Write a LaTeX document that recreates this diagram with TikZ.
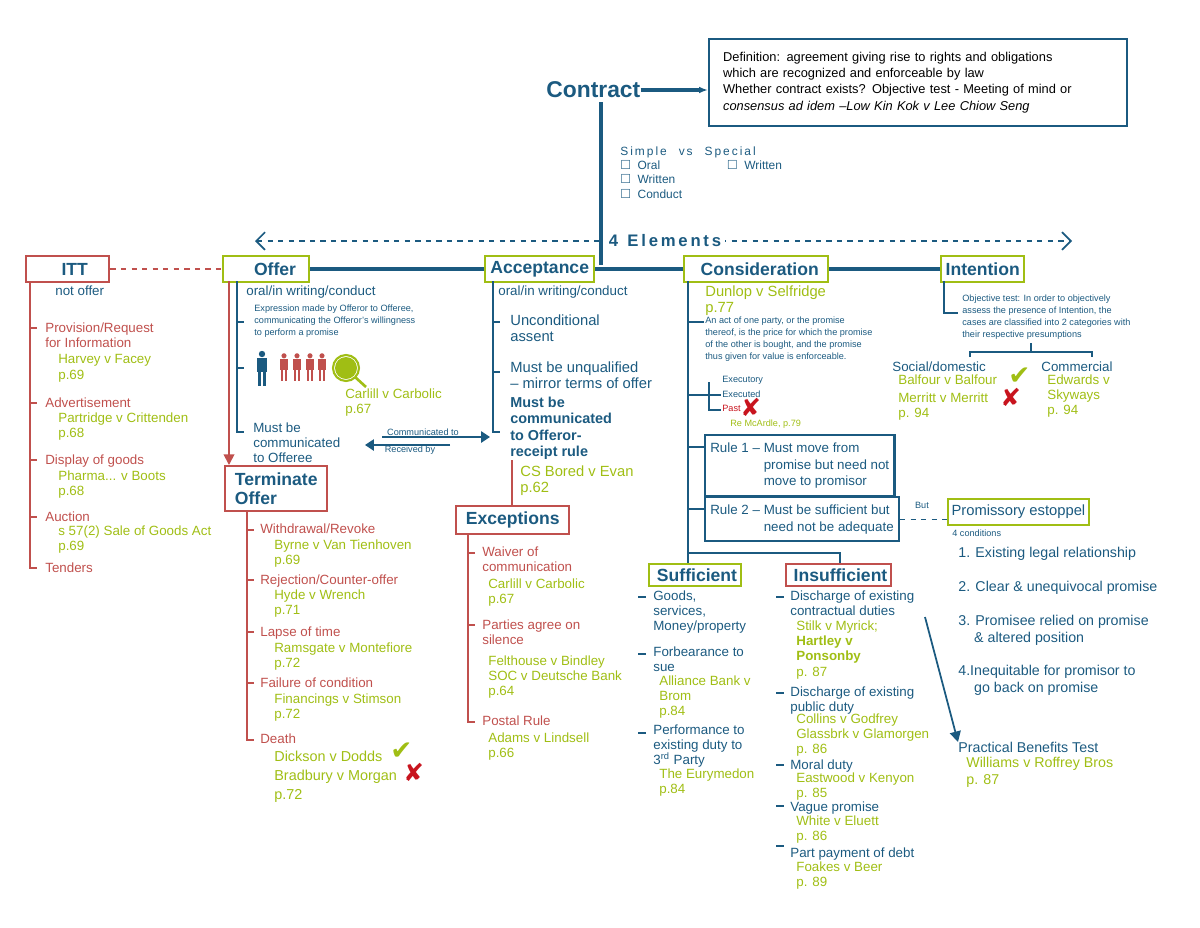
\documentclass[tikz,border=0pt]{standalone}
\usepackage{amssymb}
\usepackage{fontspec}
\setmainfont{Liberation Sans}
\newfontfamily\symfont{DejaVu Sans}
\usetikzlibrary{arrows.meta}
\definecolor{cblue}{RGB}{27,90,128}
\definecolor{cgreen}{RGB}{160,190,20}
\definecolor{cred}{RGB}{192,80,77}
\definecolor{xred}{RGB}{200,20,30}
\tikzset{
  gbox/.style={draw=cgreen, line width=1.4pt, anchor=north west, inner sep=2pt, font=\bfseries\fontsize{10}{11}\selectfont, text=cblue, align=left},
  rbox/.style={gbox, draw=cred},
  bbox/.style={draw=cblue, line width=1.2pt, anchor=north west, inner sep=3pt, align=left},
  txt/.style={anchor=north west, inner sep=0pt, align=left, font=\fontsize{7.6}{8.8}\selectfont},
  small/.style={txt, font=\fontsize{5.2}{6.7}\selectfont},
  bl/.style={txt, text=cblue},
  gr/.style={txt, text=cgreen},
  rd/.style={txt, text=cred},
  trunk/.style={cblue, line width=1.2pt},
  rtrunk/.style={cred, line width=1.2pt},
  person/.pic={\fill (0,-4) circle (3.2); \fill (-5,0) rectangle (5,14); \fill (-4,14) rectangle (-0.7,28); \fill (0.7,14) rectangle (4,28);},
}
\begin{document}
\begin{tikzpicture}[x=0.02cm, y=-0.02cm]
\useasboundingbox (0,0) rectangle (1200,927);

% heading
\node[anchor=west, inner sep=0pt, font=\bfseries\fontsize{13}{14}\selectfont, text=cblue] (contract) at (546,90) {Contract};
\node[bbox, text width=7.8cm, minimum height=1.74cm, inner xsep=8pt, font=\fontsize{7.3}{9.2}\selectfont] (defn) at (708,38)
  {Definition: agreement giving rise to rights and obligations\\which are recognized and enforceable by law\\Whether contract exists? Objective test - Meeting of mind or\\\textit{consensus ad idem} \textit{--Low Kin Kok v Lee Chiow Seng}};
\draw[cblue, line width=2.5pt, -{Latex[length=5pt]}] (contract.east) -- (defn.west |- contract.east);

\node[bl, font=\fontsize{6.8}{8.2}\selectfont] (kinds) at (620,146)
  {S\,i\,m\,p\,l\,e\quad v\,s\quad S\,p\,e\,c\,i\,a\,l\\
   $\square$\ \ Oral\hspace{38pt}$\square$\ \ Written\\ $\square$\ \ Written\\ $\square$\ \ Conduct};

% main spine
\coordinate (top) at (601,102);
\coordinate (mid) at (601,265);
\draw[trunk, line width=2pt] (top) -- (mid);
\draw[cblue, dashed, line width=1pt, {Straight Barb[length=5pt]}-{Straight Barb[length=5pt]}] (255,241) -- (1072,241);
\node[fill=white, inner sep=2pt, text=cblue, font=\bfseries\fontsize{9.5}{10}\selectfont] (elem) at (665,241) {4\ \ E\,l\,e\,m\,e\,n\,t\,s};

% element boxes
\node[rbox, minimum width=1.66cm, minimum height=0.52cm, align=center] (itt) at (25,255) {\hspace{8pt}ITT};
\node[gbox, minimum width=1.72cm, minimum height=0.52cm] (offer) at (222,255) {\hspace{10pt}Offer};
\node[gbox, minimum width=2.18cm, minimum height=0.52cm] (accept) at (484,255) {Acceptance};
\node[gbox, minimum width=2.88cm, minimum height=0.52cm] (consid) at (683,255) {\hspace{4pt}Consideration};
\node[gbox, minimum width=1.66cm, minimum height=0.52cm] (intent) at (940,255) {Intention};
\draw[trunk, line width=2pt] (offer.east) -- (accept.west);
\draw[trunk, line width=2pt] (accept.east) -- (consid.west);
\draw[trunk, line width=2pt] (consid.east) -- (intent.west);
\draw[cred, dashed, line width=1pt] (itt.east) -- (offer.west);

% ITT
\draw[rtrunk] (30,281) -- (30,568) -- (37,568);
\foreach \yy in {328,403,460,517} \draw[rtrunk] (30,\yy) -- (37,\yy);
\node[bl] (nooffer) at (55,285) {not offer};
\node[rd] (prov) at (45,322) {Provision/Request\\for Information};
\node[gr] (harvey) at (58,354) {Harvey v Facey\\p.69};
\node[rd] (advert) at (45,397) {Advertisement};
\node[gr] (partr) at (58,412) {Partridge v Crittenden\\p.68};
\node[rd] (display) at (45,454) {Display of goods};
\node[gr] (pharm) at (58,470) {Pharma... v Boots\\p.68};
\node[rd] (auction) at (45,511) {Auction};
\node[gr] (sale) at (58,525) {s 57(2) Sale of Goods Act\\p.69};
\node[rd] (tenders) at (45,562) {Tenders};

% Offer
\node[bl] (offoral) at (246,285) {oral/in writing/conduct};
\node[small, text=cblue] (expr) at (254,305) {Expression made by Offeror to Offeree,\\communicating the Offeror's willingness\\to perform a promise};
\pic[cblue] at (262,358) {person};
\foreach \xx in {284,297,310,322} \pic[cred, scale=0.8] at (\xx,359) {person};
\fill[cgreen] (346,368) circle (11);
\draw[cgreen, line width=1.2pt] (346,368) circle (13);
\draw[cgreen, line width=1.5pt] (355,377) -- (366,387);
\node[gr] (carlill) at (345,388) {Carlill v Carbolic\\p.67};
\node[bl] (mustoff) at (253,422) {Must be\\communicated\\to Offeree};
\draw[trunk] (237,281) -- (237,432) -- (244,432);
\foreach \yy in {322,368} \draw[trunk] (237,\yy) -- (244,\yy);
\draw[cred, line width=1pt, -{Triangle[length=6pt,width=6pt]}] (229,281) -- (229,465);
\coordinate (cto) at (490,437);
\coordinate (rby) at (365,445);
\draw[cblue, line width=1pt, -{Triangle[length=5pt]}] (382,437) -- (cto);
\draw[cblue, line width=1pt, -{Triangle[length=5pt]}] (450,445) -- (rby);
\node[small, text=cblue, anchor=south] (ctolbl) at (423,436) {Communicated to};
\node[small, text=cblue, anchor=north] (rbylbl) at (410,446) {Received by};

% Acceptance
\node[bl] (accoral) at (498,285) {oral/in writing/conduct};
\node[bl, font=\fontsize{8.4}{9.6}\selectfont] (uncond) at (510,314) {Unconditional\\assent};
\node[bl, font=\fontsize{8.4}{9.6}\selectfont] (unqual) at (510,361) {Must be unqualified\\-- mirror terms of offer};
\node[bl, font=\bfseries\fontsize{8.2}{9.2}\selectfont] (mustacc) at (510,397) {Must be\\communicated\\to Offeror-\\receipt rule};
\draw[trunk] (493,281) -- (493,432) -- (500,432);
\foreach \yy in {322,372} \draw[trunk] (493,\yy) -- (500,\yy);
\node[gr, font=\fontsize{8.4}{9.6}\selectfont] (csb) at (520,465) {CS Bored v Evan\\p.62};
\draw[rtrunk] (512,460) -- (512,505);

% Terminate offer
\node[rbox, minimum width=2.04cm, minimum height=0.9cm, align=left] (term) at (224,465) {Terminate\\Offer};
\draw[rtrunk] (247,510) -- (247,740) -- (254,740);
\foreach \yy in {530,580,632,683} \draw[rtrunk] (247,\yy) -- (254,\yy);
\node[rd] (withd) at (260,523) {Withdrawal/Revoke};
\node[gr] (byrne) at (274,539) {Byrne v Van Tienhoven\\p.69};
\node[rd] (reject) at (260,574) {Rejection/Counter-offer};
\node[gr] (hyde) at (274,589) {Hyde v Wrench\\p.71};
\node[rd] (lapse) at (260,626) {Lapse of time};
\node[gr] (rams) at (274,642) {Ramsgate v Montefiore\\p.72};
\node[rd] (fail) at (260,677) {Failure of condition};
\node[gr] (finance) at (274,693) {Financings v Stimson\\p.72};
\node[rd] (death) at (260,733) {Death};
\node[gr, font=\fontsize{8.2}{10.6}\selectfont] (dickson) at (274,751) {Dickson v Dodds\\Bradbury v Morgan\\p.72};
\node[txt, text=cgreen, font=\symfont\bfseries\fontsize{15}{15}\selectfont] (tick1) at (390,743) {✔};
\node[txt, text=xred, font=\symfont\bfseries\fontsize{14}{14}\selectfont] (cross1) at (403,763) {✘};

% Exceptions
\node[rbox, minimum width=2.26cm, minimum height=0.56cm] (except) at (455,505) {Exceptions};
\draw[rtrunk] (468,533) -- (468,722) -- (475,722);
\foreach \yy in {553,625} \draw[rtrunk] (468,\yy) -- (475,\yy);
\node[rd] (waiver) at (482,546) {Waiver of\\communication};
\node[gr] (carl2) at (488,578) {Carlill v Carbolic\\p.67};
\node[rd] (silence) at (482,619) {Parties agree on\\silence};
\node[gr] (felt) at (488,655) {Felthouse v Bindley\\SOC v Deutsche Bank\\p.64};
\node[rd] (postal) at (482,715) {Postal Rule};
\node[gr] (adams) at (488,732) {Adams v Lindsell\\p.66};

% Consideration
\node[gr, font=\fontsize{8.4}{9.4}\selectfont] (dunlop) at (705,285) {Dunlop v Selfridge\\p.77};
\node[small, text=cblue] (actof) at (705,317) {An act of one party, or the promise\\thereof, is the price for which the promise\\of the other is bought, and the promise\\thus given for value is enforceable.};
\draw[trunk] (688,281) -- (688,553);
\foreach \yy in {322,447,509} \draw[trunk] (688,\yy) -- (704,\yy);
\draw[cblue, line width=0.7pt] (688,395) -- (721,395);
\draw[cblue, line width=0.7pt] (709,382) -- (709,410) -- (721,410);
\node[small, text=cblue] (exec1) at (722,376) {Executory};
\node[small, text=cblue] (exec2) at (722,391) {Executed};
\node[small, text=xred] (past) at (722,405) {Past};
\node[txt, text=xred, font=\symfont\bfseries\fontsize{14}{14}\selectfont] (cross2) at (740,398) {✘};
\node[small, text=cgreen] (mcard) at (730,420) {Re McArdle, p.79};
\node[bbox, minimum width=3.78cm, minimum height=1.12cm, font=\fontsize{7.6}{9.6}\selectfont, text=cblue] (rule1) at (704,434)
  {Rule 1 -- \begin{tabular}[t]{@{}l@{}}Must move from\\promise but need not\\move to promisor\end{tabular}};
\node[bbox, minimum width=3.86cm, minimum height=0.84cm, font=\fontsize{7.6}{9.6}\selectfont, text=cblue] (rule2) at (704,496)
  {Rule 2 -- \begin{tabular}[t]{@{}l@{}}Must be sufficient but\\need not be adequate\end{tabular}};
\node[gbox, minimum width=2.8cm, minimum height=0.52cm, font=\fontsize{8.4}{9.4}\selectfont, line width=1.2pt] (estop) at (947,498) {Promissory estoppel};
\draw[cblue, dashed, line width=0.7pt] (rule2.east) -- (estop.west |- rule2.east);
\node[small, text=cblue, anchor=south] (but) at (922,509) {But};
\node[small, text=cblue] (fourc) at (952,530) {4 conditions};
\node[bl, font=\fontsize{8.1}{9.6}\selectfont] (cond) at (958,547)
  {1. Existing legal relationship\\[9.6pt]2. Clear \& unequivocal promise\\[9.6pt]3. Promisee relied on promise\\\hspace{9pt}\& altered position\\[9.6pt]4.Inequitable for promisor to\\\hspace{9pt}go back on promise};
\node[bl, font=\fontsize{8.1}{9.6}\selectfont] (pbt) at (958,742) {Practical Benefits Test};
\node[gr, font=\fontsize{8.1}{9.6}\selectfont] (williams) at (966,757) {Williams v Roffrey Bros\\p. 87};

% sufficient / insufficient
\draw[trunk] (688,553) -- (840,553) -- (840,563);
\draw[trunk] (688,553) -- (688,563);
\node[gbox, minimum width=1.84cm, minimum height=0.44cm, inner sep=1pt] (suff) at (648,563) {\hspace{2pt}Sufficient};
\node[rbox, minimum width=2.1cm, minimum height=0.44cm, inner sep=1pt] (insuff) at (785,563) {\hspace{2pt}Insufficient};
\foreach \yy in {597,654,733} \draw[trunk] (638,\yy) -- (646,\yy);
\node[bl] (goods) at (653,590) {Goods,\\services,\\Money/property};
\node[bl] (forb) at (653,646) {Forbearance to\\sue};
\node[gr] (alliance) at (659,675) {Alliance Bank v\\Brom\\p.84};
\node[bl] (perf) at (653,724) {Performance to\\existing duty to\\3\textsuperscript{rd} Party};
\node[gr] (eury) at (659,768) {The Eurymedon\\p.84};

\foreach \yy in {597,693,765,806,846} \draw[trunk] (776,\yy) -- (784,\yy);
\node[bl] (disc1) at (790,590) {Discharge of existing\\contractual duties};
\node[gr] (stilk) at (796,620) {Stilk v Myrick;\\\textbf{Hartley v}\\\textbf{Ponsonby}\\p. 87};
\node[bl] (disc2) at (790,686) {Discharge of existing\\public duty};
\node[gr] (collins) at (796,713) {Collins v Godfrey\\Glassbrk v Glamorgen\\p. 86};
\node[bl] (moral) at (790,759) {Moral duty};
\node[gr] (eastw) at (796,772) {Eastwood v Kenyon\\p. 85};
\node[bl] (vague) at (790,801) {Vague promise};
\node[gr] (white) at (796,815) {White v Eluett\\p. 86};
\node[bl] (partpay) at (790,847) {Part payment of debt};
\node[gr] (foakes) at (796,861) {Foakes v Beer\\p. 89};
\coordinate (dutyend) at (925,617);
\draw[cblue, line width=1pt, -{Triangle[length=6pt]}] (dutyend) -- (pbt.north west);

% Intention
\draw[trunk] (944,281) -- (944,313) -- (958,313);
\node[small, text=cblue] (objtest) at (962,295) {Objective test: In order to objectively\\assess the presence of Intention, the\\cases are classified into 2 categories with\\their respective presumptions};
\draw[cblue, line width=0.7pt] (970,357) -- (970,352) -- (1092,352) -- (1092,357);
\draw[cblue, line width=0.7pt] (1031,352) -- (1031,343);
\node[bl] (social) at (892,361) {Social/domestic};
\node[gr] (balfour) at (898,374) {Balfour v Balfour};
\node[gr] (merritt) at (898,392) {Merritt v Merritt\\p. 94};
\node[txt, text=cgreen, font=\symfont\bfseries\fontsize{15}{15}\selectfont] (tick2) at (1008,368) {✔};
\node[txt, text=xred, font=\symfont\bfseries\fontsize{14}{14}\selectfont] (cross3) at (1000,388) {✘};
\node[bl] (comm) at (1041,361) {Commercial};
\node[gr] (edwards) at (1047,374) {Edwards v\\Skyways\\p. 94};
\end{tikzpicture}
\end{document}
